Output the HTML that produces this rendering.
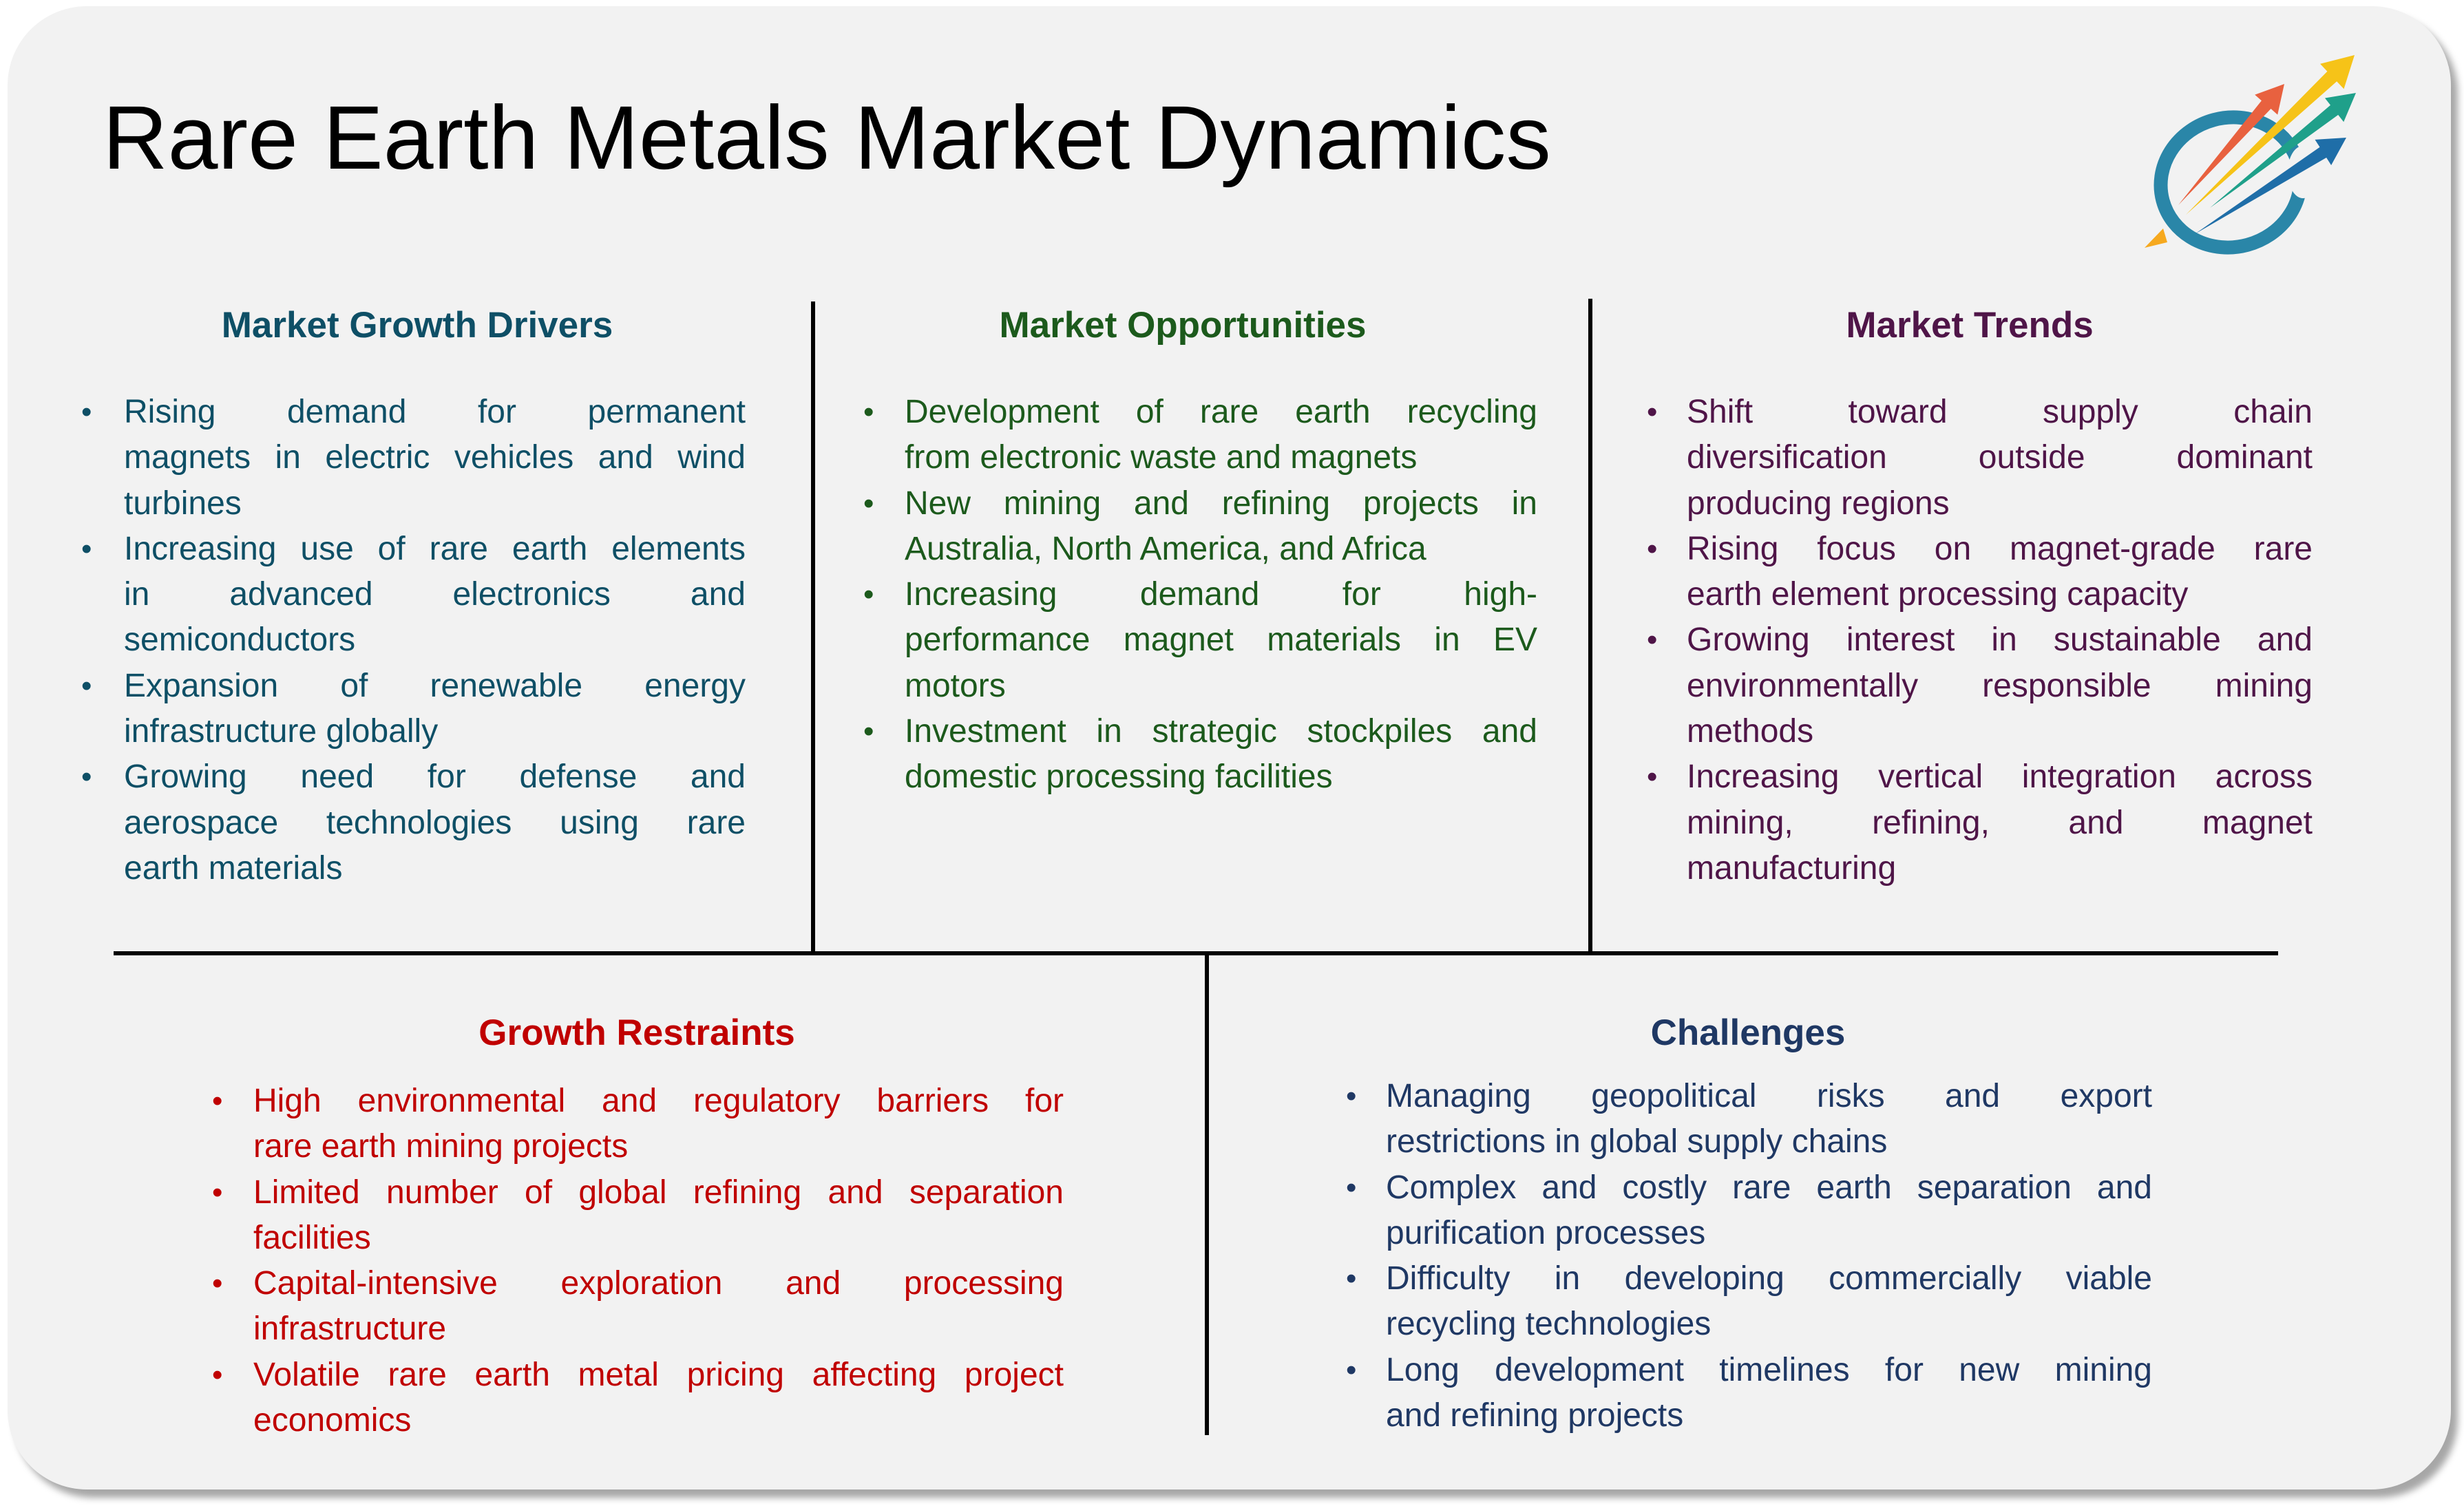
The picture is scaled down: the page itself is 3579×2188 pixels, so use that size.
<!DOCTYPE html>
<html><head><meta charset="utf-8">
<style>
html,body{margin:0;padding:0;}
body{width:3579px;height:2188px;background:#ffffff;position:relative;overflow:hidden;font-family:"Liberation Sans",sans-serif;}
.card{position:absolute;left:11px;top:9px;width:3549px;height:2155px;background:#f2f2f2;border-radius:115px;box-shadow:10px 12px 10px rgba(0,0,0,0.35);}
.title{position:absolute;left:149px;top:120px;font-size:131px;color:#000;white-space:nowrap;line-height:160px;}
.h{position:absolute;font-weight:bold;font-size:53px;text-align:center;white-space:nowrap;line-height:60px;transform:translateX(-50%);}
.col{position:absolute;font-size:48px;}
.ln{height:66.3px;line-height:66.3px;white-space:nowrap;position:relative;}
.j{text-align:justify;text-align-last:justify;}
.b{position:absolute;font-size:44px;}
.v{position:absolute;background:#000;width:6px;}
.hz{position:absolute;background:#000;height:6px;}
</style></head><body>
<div class="card"></div>
<div class="title">Rare Earth Metals Market Dynamics</div>

<svg style="position:absolute;left:3080px;top:50px" width="400" height="350" viewBox="0 0 400 350">
<ellipse cx="160" cy="215" rx="102" ry="94" fill="none" stroke="#2a86a8" stroke-width="20" transform="rotate(-15 160 215)"/>
<ellipse cx="265" cy="200" rx="22" ry="38" fill="#f2f2f2"/>
<polygon points="35,310 62,282 68,302" fill="#f6a91f"/>
<polygon points="84,248 204.9,96.2 195.2,87.6 238,72 228.2,116.6 218.5,108" fill="#e8613f"/>
<polygon points="95,262 300.4,53.7 290.1,42.8 340,30 324.5,79.2 314.2,68.3" fill="#f6c318"/>
<polygon points="130,252 305,102.7 297,92.5 342,85 324.2,127.1 316.2,116.9" fill="#1fa08a"/>
<polygon points="108,290 289.5,163.8 282.5,152.9 328,150 306.1,190 299.1,179" fill="#1f6ea8"/>
</svg>

<div class="v" style="left:1178px;top:438px;height:948px"></div>
<div class="v" style="left:2307px;top:434px;height:952px"></div>
<div class="hz" style="left:165px;top:1382px;width:3144px"></div>
<div class="v" style="left:1750px;top:1385px;height:700px"></div>

<div class="h" style="left:606px;top:443px;color:#0e4f66">Market Growth Drivers</div>
<div class="h" style="left:1718px;top:443px;color:#1c5a1c">Market Opportunities</div>
<div class="h" style="left:2861px;top:443px;color:#4f1548">Market Trends</div>
<div class="h" style="left:925px;top:1471px;color:#c00000">Growth Restraints</div>
<div class="h" style="left:2539px;top:1471px;color:#1f3864">Challenges</div>

<div class="col" style="left:180px;top:566px;width:903px;color:#0e4f66">
<div class="ln j"><span class="b" style="left:-62px">•</span>Rising demand for permanent</div>
<div class="ln j">magnets in electric vehicles and wind</div>
<div class="ln">turbines</div>
<div class="ln j"><span class="b" style="left:-62px">•</span>Increasing use of rare earth elements</div>
<div class="ln j">in advanced electronics and</div>
<div class="ln">semiconductors</div>
<div class="ln j"><span class="b" style="left:-62px">•</span>Expansion of renewable energy</div>
<div class="ln">infrastructure globally</div>
<div class="ln j"><span class="b" style="left:-62px">•</span>Growing need for defense and</div>
<div class="ln j">aerospace technologies using rare</div>
<div class="ln">earth materials</div>
</div>

<div class="col" style="left:1314px;top:566px;width:919px;color:#1c5a1c">
<div class="ln j"><span class="b" style="left:-60px">•</span>Development of rare earth recycling</div>
<div class="ln">from electronic waste and magnets</div>
<div class="ln j"><span class="b" style="left:-60px">•</span>New mining and refining projects in</div>
<div class="ln">Australia, North America, and Africa</div>
<div class="ln j"><span class="b" style="left:-60px">•</span>Increasing demand for high-</div>
<div class="ln j">performance magnet materials in EV</div>
<div class="ln">motors</div>
<div class="ln j"><span class="b" style="left:-60px">•</span>Investment in strategic stockpiles and</div>
<div class="ln">domestic processing facilities</div>
</div>

<div class="col" style="left:2450px;top:566px;width:909px;color:#4f1548">
<div class="ln j"><span class="b" style="left:-58px">•</span>Shift toward supply chain</div>
<div class="ln j">diversification outside dominant</div>
<div class="ln">producing regions</div>
<div class="ln j"><span class="b" style="left:-58px">•</span>Rising focus on magnet-grade rare</div>
<div class="ln">earth element processing capacity</div>
<div class="ln j"><span class="b" style="left:-58px">•</span>Growing interest in sustainable and</div>
<div class="ln j">environmentally responsible mining</div>
<div class="ln">methods</div>
<div class="ln j"><span class="b" style="left:-58px">•</span>Increasing vertical integration across</div>
<div class="ln j">mining, refining, and magnet</div>
<div class="ln">manufacturing</div>
</div>

<div class="col" style="left:368px;top:1567px;width:1177px;color:#c00000">
<div class="ln j"><span class="b" style="left:-60px">•</span>High environmental and regulatory barriers for</div>
<div class="ln">rare earth mining projects</div>
<div class="ln j"><span class="b" style="left:-60px">•</span>Limited number of global refining and separation</div>
<div class="ln">facilities</div>
<div class="ln j"><span class="b" style="left:-60px">•</span>Capital-intensive exploration and processing</div>
<div class="ln">infrastructure</div>
<div class="ln j"><span class="b" style="left:-60px">•</span>Volatile rare earth metal pricing affecting project</div>
<div class="ln">economics</div>
</div>

<div class="col" style="left:2013px;top:1560px;width:1113px;color:#1f3864">
<div class="ln j"><span class="b" style="left:-58px">•</span>Managing geopolitical risks and export</div>
<div class="ln">restrictions in global supply chains</div>
<div class="ln j"><span class="b" style="left:-58px">•</span>Complex and costly rare earth separation and</div>
<div class="ln">purification processes</div>
<div class="ln j"><span class="b" style="left:-58px">•</span>Difficulty in developing commercially viable</div>
<div class="ln">recycling technologies</div>
<div class="ln j"><span class="b" style="left:-58px">•</span>Long development timelines for new mining</div>
<div class="ln">and refining projects</div>
</div>
</body></html>
